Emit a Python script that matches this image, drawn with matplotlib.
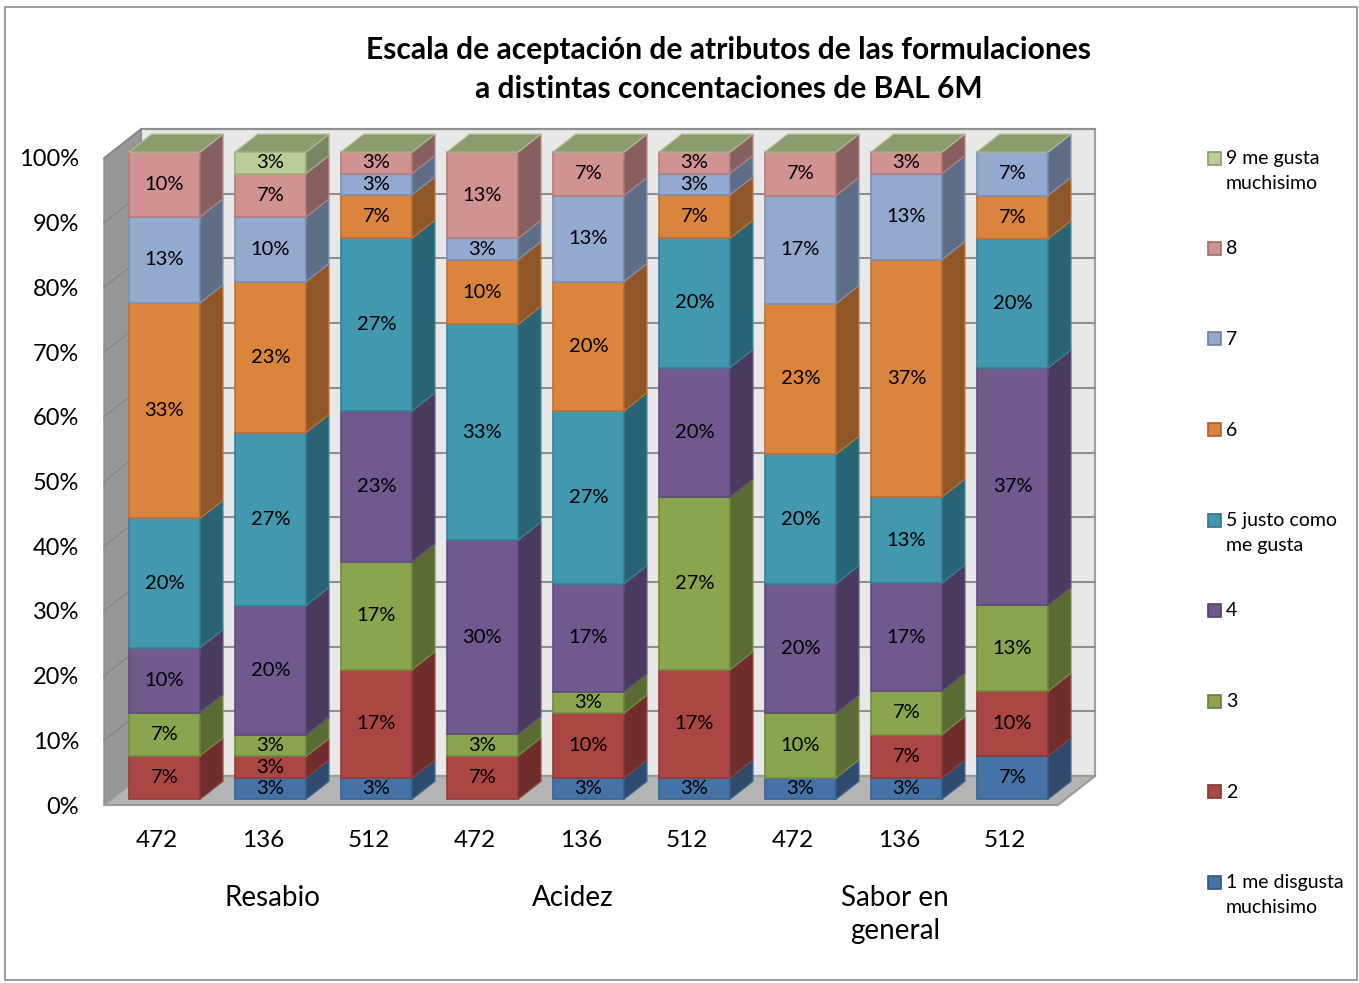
import matplotlib.pyplot as plt
import matplotlib.colors as mcolors
from matplotlib.patches import Polygon, Rectangle
import numpy as np

plt.rcParams['font.family'] = ['Lato', 'DejaVu Sans']

# datos (% por formulacion)
muestras = ['472', '136', '512', '472', '136', '512', '472', '136', '512']
grupos = ['Resabio', 'Acidez', 'Sabor en\ngeneral']
series = ['1 me disgusta\nmuchisimo', '2', '3', '4', '5 justo como\nme gusta',
          '6', '7', '8', '9 me gusta\nmuchisimo']
s1 = [0, 3.3, 3.3, 0, 3.3, 3.3, 3.3, 3.3, 6.7]
s2 = [6.7, 3.3, 16.7, 6.7, 10, 16.7, 0, 6.7, 10]
s3 = [6.7, 3.3, 16.7, 3.3, 3.3, 26.7, 10, 6.7, 13.3]
s4 = [10, 20, 23.3, 30, 16.7, 20, 20, 16.7, 36.7]
s5 = [20, 26.7, 26.7, 33.3, 26.7, 20, 20, 13.3, 20]
s6 = [33.3, 23.3, 6.7, 10, 20, 6.7, 23.3, 36.7, 6.7]
s7 = [13.3, 10, 3.3, 3.3, 13.3, 3.3, 16.7, 13.3, 6.7]
s8 = [10, 6.7, 3.3, 13.3, 6.7, 3.3, 6.7, 3.3, 0]
s9 = [0, 3.3, 0, 0, 0, 0, 0, 0, 0]

frente = ['#4572A7', '#AA4643', '#89A54E', '#71588F', '#4198AF', '#DB843D', '#93A9CF', '#D19392', '#B9CD96']
lado = ['#2E4B6E', '#6F2D2B', '#5A6B33', '#4A3A5E', '#2A6373', '#8F5628', '#5F6E87', '#885F5F', '#798662']
techo = '#8C9B6C'

W, H = 1359, 983
fig = plt.figure(figsize=(W / 100, H / 100), dpi=100)
ax = fig.add_axes([104 / W, (H - 805) / H, 954 / W, 647 / H])
ax.set_xlim(0, 9)
ax.set_ylim(0, 100)

DX = 37 / 106.0   # profundidad en unidades de categoria
DY = 29 / 6.47    # profundidad en %


def p(x, y, z):
    return (x + z * DX, y + z * DY)


def poly(pts, fc, ec='none', lw=0, zo=1):
    ax.add_patch(Polygon(pts, closed=True, facecolor=fc, edgecolor=ec, linewidth=lw,
                         zorder=zo, clip_on=False))


# paredes
poly([p(0, 0, 1), p(9, 0, 1), p(9, 100, 1), p(0, 100, 1)], '#E8E8E8', '#A0A0A0', 1.5, 0)
poly([p(0, 0, 0), p(0, 100, 0), p(0, 100, 1), p(0, 0, 1)], '#979797', '#8A8A8A', 1, 0.5)
poly([p(0, 0, 0), p(9, 0, 0), p(9, 0, 1), p(0, 0, 1)], '#B4B4B4', '#9A9A9A', 1.5, 0.6)
for g in range(0, 101, 10):
    a, b = p(0, g, 1), p(9, g, 1)
    ax.plot([a[0], b[0]], [a[1], b[1]], color='#8F8F8F', lw=1.5, zorder=0.2, clip_on=False)
    a0 = p(0, g, 0)
    ax.plot([a0[0], a[0]], [a0[1], a[1]], color='#858585', lw=1, zorder=0.55, clip_on=False)

datos = np.array([s1, s2, s3, s4, s5, s6, s7, s8, s9])
totales = datos.sum(axis=0)
z0, z1 = 0.2, 0.82
for i in range(len(muestras)):
    x0, x1 = i + 0.165, i + 0.835
    base = 0
    for k in range(len(series)):
        v = datos[k, i]
        if v <= 0:
            continue
        h = v / totales[i] * 100
        top = base + h
        ec = mcolors.to_hex(np.array(mcolors.to_rgb(frente[k])) * 0.85)
        poly([p(x0, base, z0), p(x1, base, z0), p(x1, top, z0), p(x0, top, z0)],
             frente[k], ec, 1.2, 2)
        poly([p(x1, base, z0), p(x1, base, z1), p(x1, top, z1), p(x1, top, z0)],
             lado[k], ec, 1.0, 2)
        cx, cy = p((x0 + x1) / 2, base + h / 2, z0)
        ax.text(cx, cy, '%d%%' % round(v), ha='center', va='center', fontsize=14.5,
                color='black', zorder=5)
        base = top
    poly([p(x0, 100, z0), p(x1, 100, z0), p(x1, 100, z1), p(x0, 100, z1)],
         techo, '#A9B98C', 1.0, 3)

for s in ax.spines.values():
    s.set_visible(False)
ax.set_yticks(range(0, 101, 10))
ax.set_yticklabels(['%d%%' % t for t in range(0, 101, 10)], fontsize=17)
ax.set_xticks(np.arange(9) + 0.5)
ax.set_xticklabels(muestras, fontsize=17.5)
ax.tick_params(length=0)
ax.tick_params(axis='y', pad=18)
ax.tick_params(axis='x', pad=18)

for gx, gt in zip([1.585, 4.42, 7.46], grupos):
    ax.text(gx, -12.3, gt, ha='center', va='top', fontsize=20, linespacing=1.37,
            clip_on=False)

fig.text(729 / W, 1 - 69.5 / H,
         'Escala de aceptación de atributos de las formulaciones\na distintas concentaciones de BAL 6M',
         ha='center', va='center', fontsize=21.6, fontweight='bold', linespacing=1.45)

# leyenda
for j, k in enumerate(range(8, -1, -1)):
    yc = 158 + j * 90.5
    ec = mcolors.to_hex(np.array(mcolors.to_rgb(frente[k])) * 0.75)
    fig.add_artist(Rectangle((1208 / W, 1 - (yc + 6.5) / H), 13 / W, 13 / H,
                             facecolor=frente[k], edgecolor=ec, lw=1.2,
                             transform=fig.transFigure))
    fig.text(1226 / W, 1 - (yc - 8) / H, series[k], ha='left', va='top',
             fontsize=14, linespacing=1.55)

fig.add_artist(Rectangle((5 / W, 3 / H), 1352 / W, 973 / H, fill=False,
                         edgecolor='#8C8C8C', lw=1.2, transform=fig.transFigure))

fig.savefig('out.png', dpi=100)
